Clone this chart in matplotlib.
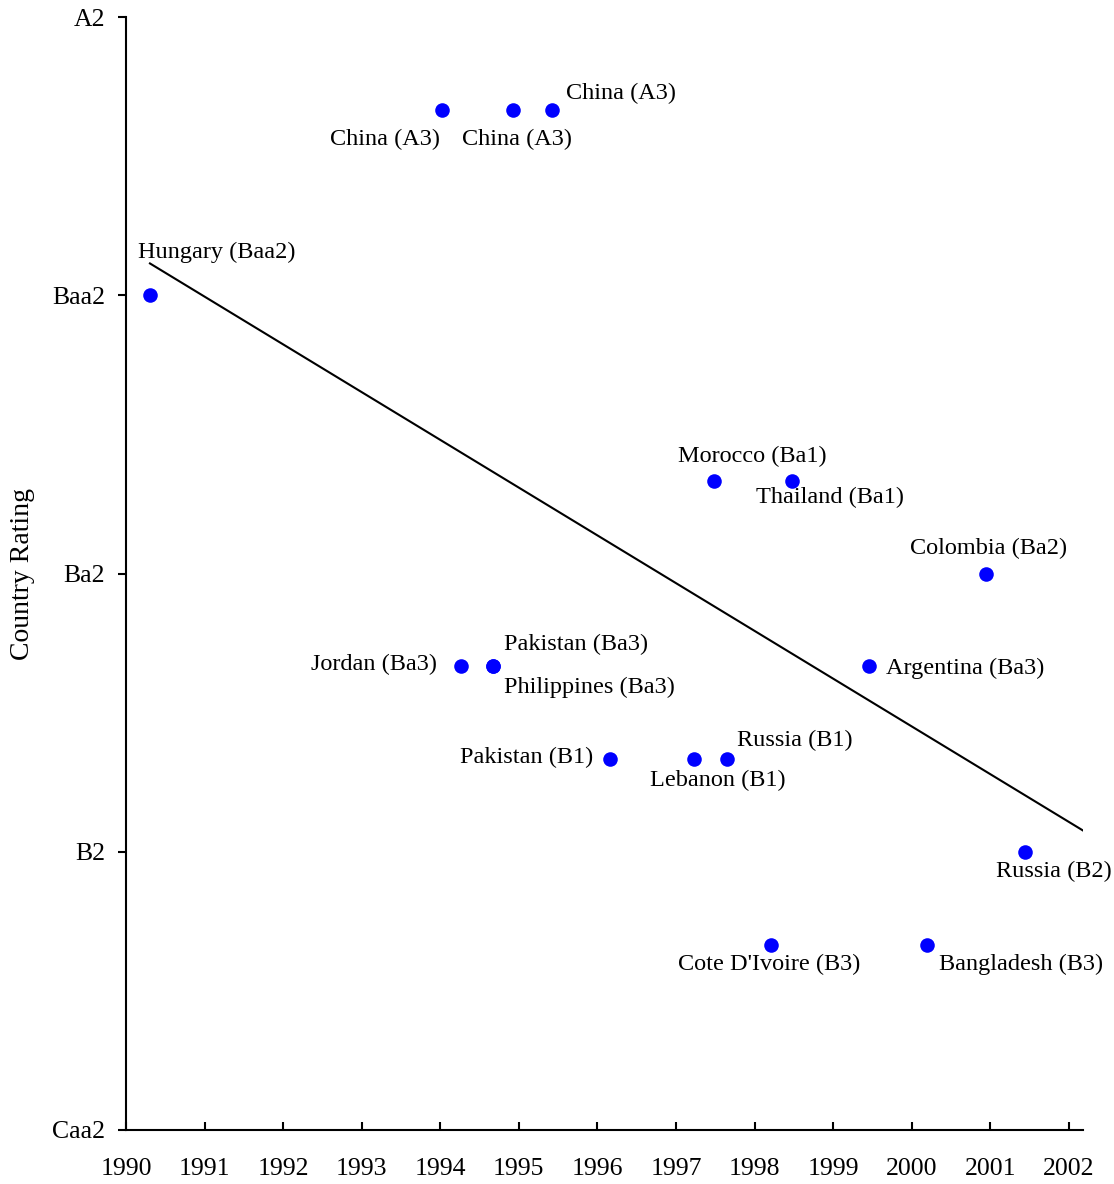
import matplotlib
matplotlib.use("Agg")
import matplotlib.pyplot as plt

# ---- data ----
rating_names = ["Caa2", "B2", "Ba2", "Baa2", "A2"]
rating_values = [3, 6, 9, 12, 15]
notch = {"A2": 15, "A3": 14, "Baa1": 13, "Baa2": 12, "Baa3": 11, "Ba1": 10,
         "Ba2": 9, "Ba3": 8, "B1": 7, "B2": 6, "B3": 5, "Caa1": 4, "Caa2": 3}

countries = ["Hungary", "China", "China", "China", "Morocco", "Thailand",
             "Colombia", "Jordan", "Pakistan", "Philippines", "Argentina",
             "Pakistan", "Lebanon", "Russia", "Russia", "Cote D'Ivoire", "Bangladesh"]
ratings = ["Baa2", "A3", "A3", "A3", "Ba1", "Ba1",
           "Ba2", "Ba3", "Ba3", "Ba3", "Ba3",
           "B1", "B1", "B1", "B2", "B3", "B3"]
years = [1990.31, 1994.02, 1994.92, 1995.42, 1997.48, 1998.47,
         2000.94, 1994.26, 1994.67, 1994.67, 1999.45,
         1996.16, 1997.23, 1997.65, 2001.44, 1998.21, 2000.20]

trend_x = [1990.305, 2002.18]
trend_y = [12.343, 6.229]

x_ticks = list(range(1990, 2003))

# ---- label placement (pixel offsets of text anchor from point) ----
label_style = [
    (-12, 43, "left"), (-2, -30, "right"), (-51, -30, "left"), (14, 16, "left"),
    (-36, 24, "left"), (-36, -17, "left"), (-76, 25, "left"), (-24, 2, "right"),
    (11, 22, "left"), (11, -21, "left"), (18, -2, "left"), (-17, 2, "right"),
    (-44, -21, "left"), (10, 19, "left"), (-29, -20, "left"), (-93, -20, "left"),
    (12, -20, "left"),
]

plt.rcParams["font.family"] = ["Liberation Serif", "DejaVu Serif"]

fig = plt.figure(figsize=(11.14, 11.84), dpi=100)
ax = fig.add_axes([126 / 1114, 1 - 1130 / 1184, (1083 - 126) / 1114, (1130 - 17) / 1184])

yv = [notch[r] for r in ratings]
ax.plot(trend_x, trend_y, color="black", lw=1.5, zorder=2)
ax.scatter(years, yv, s=110, color="#0000FF", zorder=3, linewidths=0)

for c, r, x, y, (dx, dy, ha) in zip(countries, ratings, years, yv, label_style):
    ax.annotate(f"{c} ({r})", (x, y), xytext=(dx, dy), textcoords="offset pixels",
                ha=ha, va="center", fontsize=17.5)

ax.set_xlim(1990, 2002.18)
ax.set_ylim(3, 15)
ax.set_xticks(x_ticks)
ax.set_xticklabels([str(t) for t in x_ticks])
ax.set_yticks(rating_values)
ax.set_yticklabels(rating_names)

for s in ["top", "right"]:
    ax.spines[s].set_visible(False)
for s in ["left", "bottom"]:
    ax.spines[s].set_linewidth(1.5)

ax.tick_params(axis="x", direction="in", length=6, width=1.5, pad=20, labelsize=18.5)
ax.tick_params(axis="y", direction="out", length=6, width=1.5, pad=9, labelsize=18.5)

ax.set_ylabel("Country Rating", fontsize=20)
ax.yaxis.set_label_coords(-0.095, 0.5)

fig.savefig("out.png", dpi=100)
